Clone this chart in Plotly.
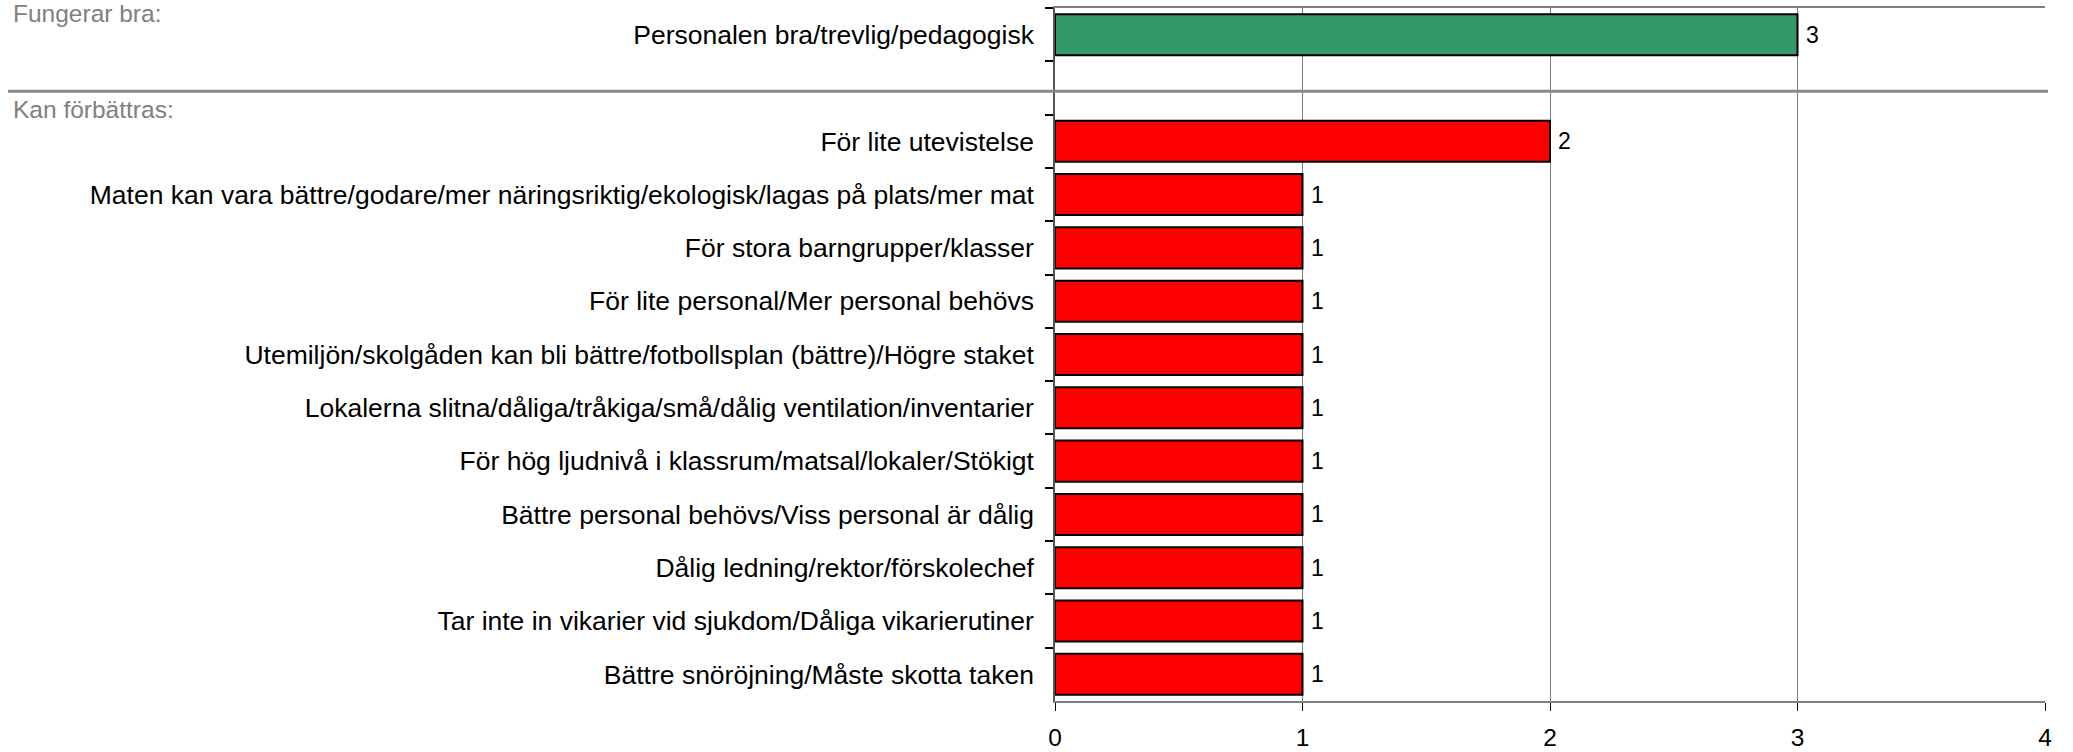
import plotly.graph_objects as go

categories = [
    "Personalen bra/trevlig/pedagogisk",
    " ",
    "För lite utevistelse",
    "Maten kan vara bättre/godare/mer näringsriktig/ekologisk/lagas på plats/mer mat",
    "För stora barngrupper/klasser",
    "För lite personal/Mer personal behövs",
    "Utemiljön/skolgåden kan bli bättre/fotbollsplan (bättre)/Högre staket",
    "Lokalerna slitna/dåliga/tråkiga/små/dålig ventilation/inventarier",
    "För hög ljudnivå i klassrum/matsal/lokaler/Stökigt",
    "Bättre personal behövs/Viss personal är dålig",
    "Dålig ledning/rektor/förskolechef",
    "Tar inte in vikarier vid sjukdom/Dåliga vikarierutiner",
    "Bättre snöröjning/Måste skotta taken",
]
values = [3, None, 2, 1, 1, 1, 1, 1, 1, 1, 1, 1, 1]
groups = ["good", None, "bad", "bad", "bad", "bad", "bad", "bad", "bad", "bad", "bad", "bad", "bad"]
section_labels = ["Fungerar bra:", "Kan förbättras:"]
x_ticks = [0, 1, 2, 3, 4]

group_colors = {"good": "#339966", "bad": "#FF0000", None: "rgba(0,0,0,0)"}
colors = [group_colors[g] for g in groups]

W, H = 2073, 752
L, R, T, B = 1055, 28, 8, 51
pw = W - L - R
ph = H - T - B

FONT = "Liberation Sans, Arial, sans-serif"

fig = go.Figure()
fig.add_trace(go.Bar(
    x=values, y=categories, orientation="h",
    marker=dict(color=colors, line=dict(color="#000000", width=2)),
    hoverinfo="x+y", showlegend=False,
))

annotations = []
for c, v in zip(categories, values):
    if v is None:
        continue
    annotations.append(dict(
        x=v, y=c, xref="x", yref="y", text=str(v), showarrow=False,
        xanchor="left", yanchor="middle", xshift=6,
        font=dict(family=FONT, size=23, color="#000000"),
    ))

def px_x(p):
    return (p - L) / pw

def px_y(p):
    return 1 - (p - T) / ph

annotations.append(dict(
    x=px_x(11), y=px_y(-2), xref="paper", yref="paper", text=section_labels[0],
    showarrow=False, xanchor="left", yanchor="top",
    font=dict(family=FONT, size=24.5, color="#808080"),
))
annotations.append(dict(
    x=px_x(11), y=px_y(94), xref="paper", yref="paper", text=section_labels[1],
    showarrow=False, xanchor="left", yanchor="top",
    font=dict(family=FONT, size=24.5, color="#808080"),
))

fig.update_layout(
    width=W, height=H,
    margin=dict(l=L, r=R, t=T, b=B, pad=0),
    paper_bgcolor="white", plot_bgcolor="white",
    bargap=0.23,
    annotations=annotations,
    shapes=[dict(
        type="line", xref="paper", yref="y",
        x0=px_x(8), x1=px_x(2048), y0=1.06, y1=1.06,
        line=dict(color="#888888", width=3), layer="above",
    )],
    xaxis=dict(
        range=[0, 4], tickvals=x_ticks, ticktext=[str(t) for t in x_ticks],
        showgrid=True, gridcolor="#7f7f7f", gridwidth=1.3,
        zeroline=False,
        showline=True, linecolor="#7f7f7f", linewidth=1.5, mirror=True,
        ticks="outside", ticklen=8, tickcolor="#000000", tickwidth=1,
        ticklabelstandoff=6,
        tickfont=dict(family=FONT, size=24.5, color="#000000"),
        automargin=False,
        fixedrange=True,
    ),
    yaxis=dict(
        type="category", categoryorder="array", categoryarray=categories,
        autorange="reversed",
        showline=True, linecolor="#555555", linewidth=1.5,
        showgrid=False,
        ticks="outside", tickson="boundaries", ticklen=8, tickcolor="#000000", tickwidth=1.5,
        ticklabelstandoff=14,
        tickfont=dict(family=FONT, size=26.5, color="#000000"),
        automargin=False,
        fixedrange=True,
    ),
)

fig.write_html(
    "out.html",
    config={"displayModeBar": False},
    post_script="document.body.style.margin='0';document.body.style.padding='0';",
)
